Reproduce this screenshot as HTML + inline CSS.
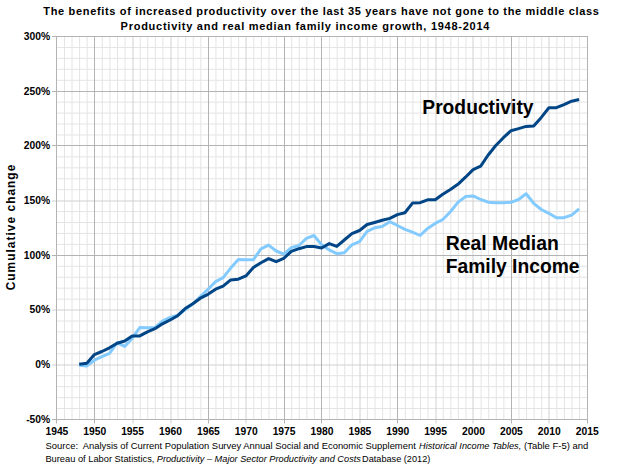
<!DOCTYPE html><html><head><meta charset="utf-8"><style>html,body{margin:0;padding:0;background:#fff;}svg{display:block;}text{font-family:"Liberation Sans",sans-serif;fill:#000;}</style></head><body>
<svg width="623" height="467" viewBox="0 0 623 467">
<rect width="623" height="467" fill="#fff"/>
<path d="M64.44 36V420M72.01 36V420M79.59 36V420M87.16 36V420M102.31 36V420M109.89 36V420M117.47 36V420M125.04 36V420M140.19 36V420M147.77 36V420M155.34 36V420M162.92 36V420M178.07 36V420M185.65 36V420M193.22 36V420M200.80 36V420M215.95 36V420M223.53 36V420M231.10 36V420M238.68 36V420M253.83 36V420M261.40 36V420M268.98 36V420M276.56 36V420M291.71 36V420M299.28 36V420M306.86 36V420M314.43 36V420M329.59 36V420M337.16 36V420M344.74 36V420M352.31 36V420M367.46 36V420M375.04 36V420M382.62 36V420M390.19 36V420M405.34 36V420M412.92 36V420M420.49 36V420M428.07 36V420M443.22 36V420M450.80 36V420M458.37 36V420M465.95 36V420M481.10 36V420M488.67 36V420M496.25 36V420M503.83 36V420M518.98 36V420M526.55 36V420M534.13 36V420M541.70 36V420M556.86 36V420M564.43 36V420M572.01 36V420M579.58 36V420M56.4 47.44H587.7M56.4 58.38H587.7M56.4 69.33H587.7M56.4 80.27H587.7M56.4 102.15H587.7M56.4 113.09H587.7M56.4 124.04H587.7M56.4 134.98H587.7M56.4 156.86H587.7M56.4 167.80H587.7M56.4 178.75H587.7M56.4 189.69H587.7M56.4 211.57H587.7M56.4 222.51H587.7M56.4 233.46H587.7M56.4 244.40H587.7M56.4 266.28H587.7M56.4 277.22H587.7M56.4 288.17H587.7M56.4 299.11H587.7M56.4 320.99H587.7M56.4 331.93H587.7M56.4 342.88H587.7M56.4 353.82H587.7M56.4 375.70H587.7M56.4 386.64H587.7M56.4 397.59H587.7M56.4 408.53H587.7" stroke="#e4e4e4" stroke-width="1" fill="none"/>
<path d="M133.00 36V423.5M171.00 36V423.5M246.00 36V423.5M360.00 36V423.5M436.00 36V423.5M473.00 36V423.5M549.00 36V423.5M52 201.00H588M52 310.00H588M52 365.00H588" stroke="#d0d0d0" stroke-width="1" fill="none"/>
<path d="M56.50 36V423.5M94.50 36V423.5M208.50 36V423.5M284.50 36V423.5M321.50 36V423.5M397.50 36V423.5M511.50 36V423.5M587.50 36V423.5M52 36.50H588M52 91.50H588M52 145.50H588M52 255.50H588M52 419.50H588" stroke="#b3b3b3" stroke-width="1" fill="none"/>
<polyline points="79.2,365.2 86.8,365.9 94.4,360.2 101.9,356.7 109.5,353.3 117.1,342.9 124.7,346.4 132.2,338.2 139.8,327.6 147.4,327.8 154.9,327.6 162.5,321.2 170.1,317.4 177.7,315.3 185.2,309.5 192.8,304.0 200.4,296.7 208.0,289.2 215.6,281.6 223.1,277.6 230.7,268.1 238.3,259.4 245.9,259.7 253.4,259.7 261.0,248.8 268.6,245.1 276.2,251.0 283.7,254.1 291.3,247.6 298.9,245.5 306.4,238.3 314.0,235.5 321.6,244.7 329.2,249.9 336.8,253.7 344.3,252.7 351.9,244.8 359.5,241.7 367.1,231.3 374.6,227.8 382.2,226.6 389.8,221.7 397.4,225.5 404.9,229.4 412.5,232.1 420.1,235.5 427.6,228.4 435.2,223.4 442.8,219.5 450.4,211.8 457.9,202.4 465.5,196.6 473.1,195.9 480.7,199.5 488.2,202.2 495.8,202.7 503.4,202.7 511.0,202.3 518.6,199.5 526.1,193.8 533.7,203.3 541.3,209.5 548.9,213.3 556.4,217.7 564.0,217.7 571.6,215.1 579.1,208.8" fill="none" stroke="#83caff" stroke-width="3" stroke-linejoin="round"/>
<polyline points="79.2,364.3 86.8,363.2 94.4,354.6 101.9,351.5 109.5,347.8 117.1,343.3 124.7,341.0 132.2,335.9 139.8,335.9 147.4,331.9 154.9,328.7 162.5,323.8 170.1,320.0 177.7,315.7 185.2,308.6 192.8,303.8 200.4,298.2 208.0,294.3 215.6,289.2 223.1,286.1 230.7,279.9 238.3,279.2 245.9,275.9 253.4,267.5 261.0,262.7 268.6,258.6 276.2,261.7 283.7,258.4 291.3,251.4 298.9,248.7 306.4,246.6 314.0,246.6 321.6,248.0 329.2,243.6 336.8,246.4 344.3,240.0 351.9,233.7 359.5,230.5 367.1,224.5 374.6,222.5 382.2,220.3 389.8,218.4 397.4,214.6 404.9,212.7 412.5,203.1 420.1,202.7 427.6,199.8 435.2,199.8 442.8,194.2 450.4,189.5 457.9,184.3 465.5,177.2 473.1,169.6 480.7,166.2 488.2,155.0 495.8,145.5 503.4,137.7 511.0,130.7 518.6,128.6 526.1,126.4 533.7,125.9 541.3,117.4 548.9,107.7 556.4,107.7 564.0,104.7 571.6,101.2 579.1,99.5" fill="none" stroke="#004586" stroke-width="3" stroke-linejoin="round"/>
<text x="50.2" y="39.9" font-size="10.3" font-weight="bold" text-anchor="end">300%</text>
<text x="50.2" y="94.6" font-size="10.3" font-weight="bold" text-anchor="end">250%</text>
<text x="50.2" y="149.3" font-size="10.3" font-weight="bold" text-anchor="end">200%</text>
<text x="50.2" y="204.0" font-size="10.3" font-weight="bold" text-anchor="end">150%</text>
<text x="50.2" y="258.7" font-size="10.3" font-weight="bold" text-anchor="end">100%</text>
<text x="50.2" y="313.4" font-size="10.3" font-weight="bold" text-anchor="end">50%</text>
<text x="50.2" y="368.2" font-size="10.3" font-weight="bold" text-anchor="end">0%</text>
<text x="50.2" y="422.9" font-size="10.3" font-weight="bold" text-anchor="end">-50%</text>
<text x="56.9" y="435.3" font-size="10.3" font-weight="bold" text-anchor="middle">1945</text>
<text x="94.7" y="435.3" font-size="10.3" font-weight="bold" text-anchor="middle">1950</text>
<text x="132.6" y="435.3" font-size="10.3" font-weight="bold" text-anchor="middle">1955</text>
<text x="170.5" y="435.3" font-size="10.3" font-weight="bold" text-anchor="middle">1960</text>
<text x="208.4" y="435.3" font-size="10.3" font-weight="bold" text-anchor="middle">1965</text>
<text x="246.3" y="435.3" font-size="10.3" font-weight="bold" text-anchor="middle">1970</text>
<text x="284.1" y="435.3" font-size="10.3" font-weight="bold" text-anchor="middle">1975</text>
<text x="322.0" y="435.3" font-size="10.3" font-weight="bold" text-anchor="middle">1980</text>
<text x="359.9" y="435.3" font-size="10.3" font-weight="bold" text-anchor="middle">1985</text>
<text x="397.8" y="435.3" font-size="10.3" font-weight="bold" text-anchor="middle">1990</text>
<text x="435.6" y="435.3" font-size="10.3" font-weight="bold" text-anchor="middle">1995</text>
<text x="473.5" y="435.3" font-size="10.3" font-weight="bold" text-anchor="middle">2000</text>
<text x="511.4" y="435.3" font-size="10.3" font-weight="bold" text-anchor="middle">2005</text>
<text x="549.3" y="435.3" font-size="10.3" font-weight="bold" text-anchor="middle">2010</text>
<text x="587.2" y="435.3" font-size="10.3" font-weight="bold" text-anchor="middle">2015</text>
<text x="43.3" y="14.8" font-size="11" font-weight="bold" textLength="555.6" lengthAdjust="spacing">The benefits of increased productivity over the last 35 years have not gone to the middle class</text>
<text x="120.6" y="30" font-size="11" font-weight="bold" textLength="368.8" lengthAdjust="spacing">Productivity and real median family income growth, 1948-2014</text>
<text transform="translate(14.8,228.3) rotate(-90) scale(0.88,1)" x="-70.45" y="0" font-size="13.4" font-weight="bold" textLength="142.6" lengthAdjust="spacing">Cumulative change</text>
<text x="422.3" y="113.7" font-size="19.6" font-weight="bold" textLength="111.2" lengthAdjust="spacingAndGlyphs">Productivity</text>
<text x="445.7" y="250.2" font-size="19.6" font-weight="bold" textLength="113.2" lengthAdjust="spacingAndGlyphs">Real Median</text>
<text x="445.7" y="272.9" font-size="19.6" font-weight="bold" textLength="133.9" lengthAdjust="spacingAndGlyphs">Family Income</text>
<text x="45.6" y="448.5" font-size="9.5" textLength="370.2" lengthAdjust="spacingAndGlyphs">Source:&#160; Analysis of Current Population Survey Annual Social and Economic Supplement</text>
<text x="419.1" y="448.5" font-size="9.5" font-style="italic" textLength="102.1" lengthAdjust="spacingAndGlyphs">Historical Income Tables,</text>
<text x="524.1" y="448.5" font-size="9.5" textLength="64.2" lengthAdjust="spacingAndGlyphs">(Table F-5) and</text>
<text x="45.4" y="461.6" font-size="9.5" textLength="109.0" lengthAdjust="spacingAndGlyphs">Bureau of Labor Statistics,</text>
<text x="156.8" y="461.6" font-size="9.5" font-style="italic" textLength="204.1" lengthAdjust="spacingAndGlyphs">Productivity – Major Sector Productivity and Costs</text>
<text x="362.1" y="461.6" font-size="9.5" textLength="68.2" lengthAdjust="spacingAndGlyphs">Database (2012)</text>
</svg></body></html>
